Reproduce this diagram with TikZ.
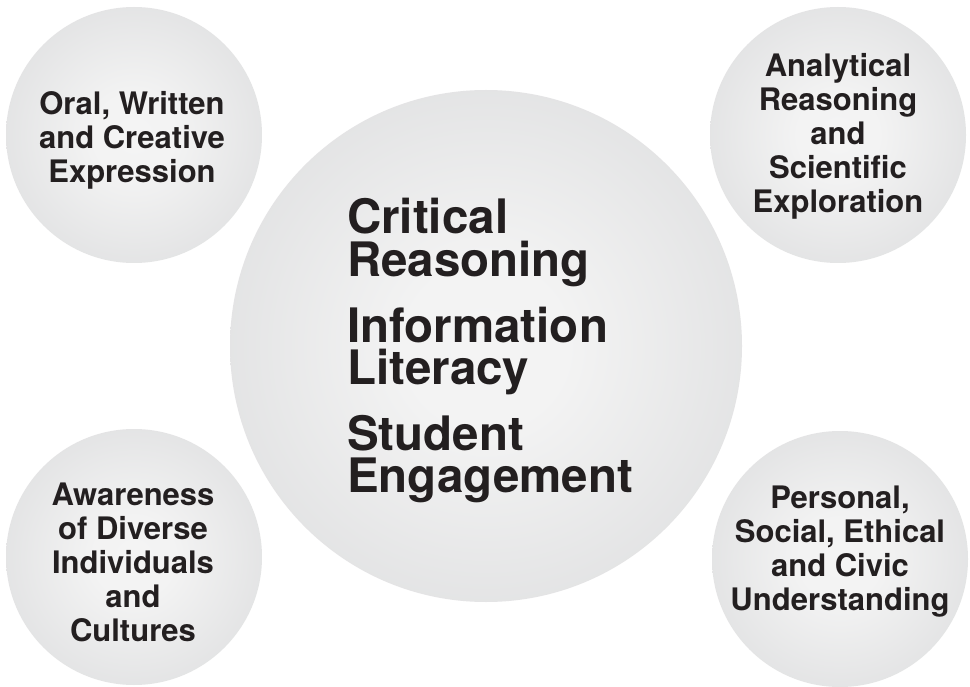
\documentclass[tikz,border=0pt]{standalone}
\usepackage{fontspec}
\setmainfont{TeX Gyre Heros}
\usetikzlibrary{backgrounds}
\definecolor{bubin}{RGB}{244,244,244}
\definecolor{bubout}{RGB}{206,207,209}
\definecolor{connc}{RGB}{214,215,217}
\definecolor{inkc}{RGB}{35,31,32}
\pgfdeclareradialshading{bubshade}{\pgfpointorigin}{color(0bp)=(bubin); color(8bp)=(bubin!97!bubout); color(50bp)=(bubout)}
\tikzset{
  bubble/.style={circle, inner sep=0pt, shading=bubshade},
  small/.style={bubble, minimum size=256pt},
  big/.style={bubble, minimum size=512pt},
  conn/.style={draw=connc, line width=8pt},
  smalltext/.style={align=center, inner sep=0pt, text=inkc, font=\fontsize{31}{34}\selectfont\bfseries},
  bigtext/.style={align=left, inner sep=0pt, text=inkc, font=\fontsize{47.5}{42.5}\selectfont\bfseries}
}
\begin{document}
\begin{tikzpicture}[x=1pt,y=-1pt]
\fill[white] (0,0) rectangle (970,687);
\useasboundingbox (0,0) rectangle (970,687);
\node[big] (c) at (486,346) {};
\node[small] (tl) at (134,135) {};
\node[small] (tr) at (838,135) {};
\node[small] (bl) at (134,557) {};
\node[small] (br) at (840,559) {};
\begin{scope}[on background layer]
\draw[conn] (tl) -- (c);
\draw[conn] (tr) -- (c);
\draw[conn] (bl) -- (c);
\draw[conn] (br) -- (c);
\end{scope}
\node[bigtext, anchor=west] (ct) at (347,350.7) {Critical\\Reasoning\\[19pt]Information\\Literacy\\[19pt]Student\\Engagement};
\node[smalltext] (tlt) at (132,140) {Oral, Written\\and Creative\\Expression};
\node[smalltext] (trt) at (838,136) {Analytical\\Reasoning\\and\\Scientific\\Exploration};
\node[smalltext] (blt) at (133,562) {Awareness\\of Diverse\\Individuals\\and\\Cultures};
\node[smalltext] (brt) at (840,552) {Personal,\\Social, Ethical\\and Civic\\Understanding};
\end{tikzpicture}
\end{document}
